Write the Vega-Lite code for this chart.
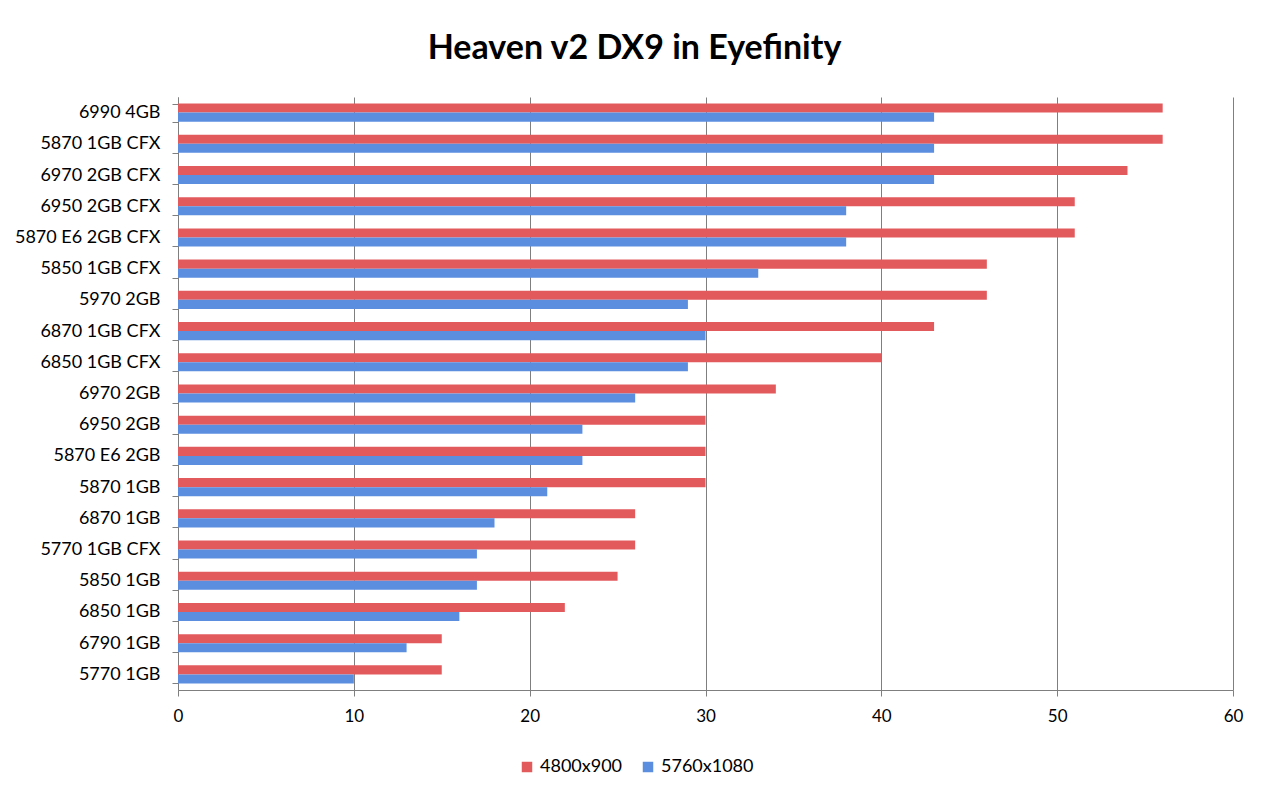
{
  "$schema": "https://vega.github.io/schema/vega-lite/v6.json",
  "autosize": {"type": "none"},
  "width": 1055,
  "height": 593,
  "padding": {"left": 178, "top": 97, "right": 38, "bottom": 113},
  "background": "white",
  "title": {
    "text": "Heaven v2 DX9 in Eyefinity",
    "font": "Lato",
    "fontWeight": "bold",
    "fontSize": 34,
    "color": "#000000",
    "anchor": "middle",
    "frame": "group",
    "dx": -71,
    "offset": 22
  },
  "data": {
    "values": [
      {"gpu": "6990 4GB", "res": "4800x900", "fps": 56},
      {"gpu": "6990 4GB", "res": "5760x1080", "fps": 43},
      {"gpu": "5870 1GB CFX", "res": "4800x900", "fps": 56},
      {"gpu": "5870 1GB CFX", "res": "5760x1080", "fps": 43},
      {"gpu": "6970 2GB CFX", "res": "4800x900", "fps": 54},
      {"gpu": "6970 2GB CFX", "res": "5760x1080", "fps": 43},
      {"gpu": "6950 2GB CFX", "res": "4800x900", "fps": 51},
      {"gpu": "6950 2GB CFX", "res": "5760x1080", "fps": 38},
      {"gpu": "5870 E6 2GB CFX", "res": "4800x900", "fps": 51},
      {"gpu": "5870 E6 2GB CFX", "res": "5760x1080", "fps": 38},
      {"gpu": "5850 1GB CFX", "res": "4800x900", "fps": 46},
      {"gpu": "5850 1GB CFX", "res": "5760x1080", "fps": 33},
      {"gpu": "5970 2GB", "res": "4800x900", "fps": 46},
      {"gpu": "5970 2GB", "res": "5760x1080", "fps": 29},
      {"gpu": "6870 1GB CFX", "res": "4800x900", "fps": 43},
      {"gpu": "6870 1GB CFX", "res": "5760x1080", "fps": 30},
      {"gpu": "6850 1GB CFX", "res": "4800x900", "fps": 40},
      {"gpu": "6850 1GB CFX", "res": "5760x1080", "fps": 29},
      {"gpu": "6970 2GB", "res": "4800x900", "fps": 34},
      {"gpu": "6970 2GB", "res": "5760x1080", "fps": 26},
      {"gpu": "6950 2GB", "res": "4800x900", "fps": 30},
      {"gpu": "6950 2GB", "res": "5760x1080", "fps": 23},
      {"gpu": "5870 E6 2GB", "res": "4800x900", "fps": 30},
      {"gpu": "5870 E6 2GB", "res": "5760x1080", "fps": 23},
      {"gpu": "5870 1GB", "res": "4800x900", "fps": 30},
      {"gpu": "5870 1GB", "res": "5760x1080", "fps": 21},
      {"gpu": "6870 1GB", "res": "4800x900", "fps": 26},
      {"gpu": "6870 1GB", "res": "5760x1080", "fps": 18},
      {"gpu": "5770 1GB CFX", "res": "4800x900", "fps": 26},
      {"gpu": "5770 1GB CFX", "res": "5760x1080", "fps": 17},
      {"gpu": "5850 1GB", "res": "4800x900", "fps": 25},
      {"gpu": "5850 1GB", "res": "5760x1080", "fps": 17},
      {"gpu": "6850 1GB", "res": "4800x900", "fps": 22},
      {"gpu": "6850 1GB", "res": "5760x1080", "fps": 16},
      {"gpu": "6790 1GB", "res": "4800x900", "fps": 15},
      {"gpu": "6790 1GB", "res": "5760x1080", "fps": 13},
      {"gpu": "5770 1GB", "res": "4800x900", "fps": 15},
      {"gpu": "5770 1GB", "res": "5760x1080", "fps": 10}
    ]
  },
  "mark": {"type": "bar"},
  "encoding": {
    "y": {
      "field": "gpu",
      "type": "nominal",
      "sort": null,
      "scale": {"paddingInner": 0.42, "paddingOuter": 0.21},
      "axis": {
        "title": null,
        "tickBand": "extent",
        "tickSize": 6,
        "tickColor": "#7f7f7f",
        "domainColor": "#7f7f7f",
        "labelFont": "Lato",
        "labelFontSize": 18,
        "labelColor": "#000000",
        "labelPadding": 12,
        "grid": false
      }
    },
    "yOffset": {"field": "res", "type": "nominal", "sort": ["4800x900", "5760x1080"]},
    "x": {
      "field": "fps",
      "type": "quantitative",
      "scale": {"domain": [0, 60], "nice": false},
      "axis": {
        "title": null,
        "values": [0, 10, 20, 30, 40, 50, 60],
        "grid": true,
        "gridColor": "#7f7f7f",
        "gridOpacity": 1,
        "tickSize": 6,
        "tickColor": "#7f7f7f",
        "domainColor": "#7f7f7f",
        "labelFont": "Lato",
        "labelFontSize": 17,
        "labelColor": "#000000",
        "labelFlush": false,
        "labelPadding": 12
      }
    },
    "color": {
      "field": "res",
      "type": "nominal",
      "sort": ["4800x900", "5760x1080"],
      "scale": {"domain": ["4800x900", "5760x1080"], "range": ["#E35A5C", "#5B8EDF"]},
      "legend": {
        "title": null,
        "orient": "none",
        "direction": "horizontal",
        "legendX": 340,
        "legendY": 661,
        "symbolType": "square",
        "symbolSize": 110,
        "labelFont": "Lato",
        "labelFontSize": 18,
        "labelColor": "#000000",
        "columnPadding": 16,
        "labelOffset": 4
      }
    }
  },
  "config": {
    "view": {"stroke": null}
  }
}
